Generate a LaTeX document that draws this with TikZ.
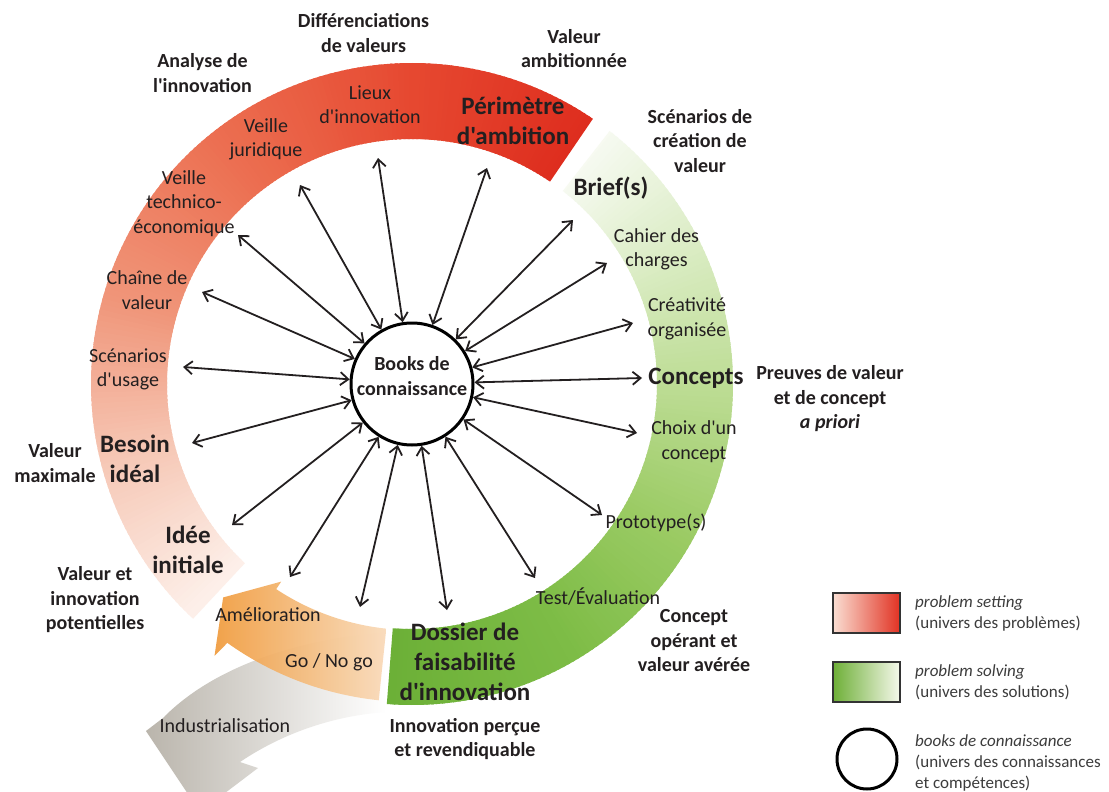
\documentclass[tikz,border=0pt]{standalone}
\usepackage{fontspec}
\setmainfont{Carlito}[Ligatures=TeXOff]
\usetikzlibrary{arrows.meta}
\definecolor{txt}{RGB}{35,31,32}
\definecolor{legtxt}{RGB}{60,60,60}
\definecolor{rA}{RGB}{222,45,30}
\definecolor{rB}{RGB}{230,72,48}
\definecolor{rC}{RGB}{236,112,82}
\definecolor{rD}{RGB}{240,150,122}
\definecolor{rE}{RGB}{246,200,182}
\definecolor{rF}{RGB}{253,240,234}
\definecolor{gA}{RGB}{247,250,242}
\definecolor{gB}{RGB}{218,236,195}
\definecolor{gC}{RGB}{190,221,150}
\definecolor{gD}{RGB}{155,203,100}
\definecolor{gE}{RGB}{125,188,70}
\definecolor{gF}{RGB}{108,176,55}
\definecolor{orA}{RGB}{240,155,60}
\definecolor{orB}{RGB}{249,218,185}
\definecolor{grA}{RGB}{186,181,172}
\definecolor{legred}{RGB}{225,50,35}
\definecolor{legpink}{RGB}{250,222,210}
\definecolor{leggreen}{RGB}{110,175,55}
\definecolor{legpale}{RGB}{245,248,235}

% #1 start angle, #2 end angle, #3 colour at start, #4 colour at end, #5 overlap of first piece
\newcommand{\ringgrad}[5]{%
  \pgfmathtruncatemacro{\rgN}{ceil(abs(#2-#1))}
  \pgfmathsetmacro{\rgD}{(#2-#1)/abs(#2-#1)}
  \foreach \k in {1,...,\rgN}{
    \pgfmathsetmacro{\ov}{ifthenelse(\k>1,0.5,#5)}
    \pgfmathsetmacro{\aA}{#1+(#2-#1)*(\k-1)/\rgN-\ov*\rgD}
    \pgfmathsetmacro{\aB}{#1+(#2-#1)*\k/\rgN}
    \pgfmathsetmacro{\pc}{100*(\k-0.5)/\rgN}
    \fill[#4!\pc!#3] (\aA:245) arc[start angle=\aA, end angle=\aB, radius=245]
      -- (\aB:321) arc[start angle=\aB, end angle=\aA, radius=321] -- cycle;
  }
}

\begin{document}
\begin{tikzpicture}[x=1pt,y=-1pt,
  lab/.style={font=\fontsize{20}{24.5}\selectfont, text=txt, align=center, inner sep=0pt},
  blab/.style={font=\fontsize{20}{24.5}\selectfont\bfseries, text=txt, align=center, inner sep=0pt},
  big/.style={font=\fontsize{25}{30}\selectfont\bfseries, text=txt, align=center, inner sep=0pt},
  legt/.style={font=\fontsize{17}{21}\selectfont, text=legtxt, align=left, anchor=west, inner sep=0pt},
  conn/.style={line width=1.8pt, draw=txt, {Straight Barb[length=8pt,width=13pt]}-{Straight Barb[length=8pt,width=13pt]}},
  legbox/.style={draw=black!80, line width=1.5pt, minimum width=67pt, minimum height=40pt, inner sep=0pt}]
\useasboundingbox (0,0) rectangle (1109,792);
\fill[white] (0,0) rectangle (1109,792);

% industrialisation arrow (grey)
\shade[left color=grA, right color=white]
  (386,632) .. controls (290,640) and (210,670) .. (163,718)
  -- (146,731) -- (200,812) -- (258,768) -- (240,762)
  .. controls (280,735) and (330,716) .. (386,712) -- cycle;

\begin{scope}[shift={(412,384)}, yscale=-1]
  % problem setting ring (red)
  \ringgrad{55.7}{90}{rA}{rB}{0}
  \ringgrad{90}{130}{rB}{rC}{0.5}
  \ringgrad{130}{165}{rC}{rD}{0.5}
  \ringgrad{165}{195}{rD}{rE}{0.5}
  \ringgrad{195}{227}{rE}{rF}{0.5}
  % problem solving ring (green)
  \ringgrad{52}{25}{gA}{gB}{0}
  \ringgrad{25}{0}{gB}{gC}{0.5}
  \ringgrad{0}{-30}{gC}{gD}{0.5}
  \ringgrad{-30}{-60}{gD}{gE}{0.5}
  \ringgrad{-60}{-94.5}{gE}{gF}{0.5}
  % amelioration arrow (orange)
  \shade[left color=orA, right color=orB, opacity=0.92]
    (264:246) arc[start angle=264, end angle=236.5, radius=246]
    -- (236.5:237) -- (228.5:285) -- (234:336) -- (234.5:318)
    arc[start angle=234.5, end angle=264, radius=318] -- cycle;
\end{scope}

% books de connaissance
\node[circle, draw=black, line width=3pt, minimum size=122pt, inner sep=0pt] (books) at (412,384) {};
\node[blab, font=\fontsize{20}{25}\selectfont\bfseries] (bookstxt) at (412,376) {Books de\\connaissance};

% outer ends of the connectors
\coordinate (o1) at (378,158);
\coordinate (o2) at (487,168);
\coordinate (o3) at (300,185);
\coordinate (o4) at (238,235);
\coordinate (o5) at (202,292);
\coordinate (o6) at (183,367);
\coordinate (o7) at (192,443);
\coordinate (o8) at (232,525);
\coordinate (o9) at (290,577);
\coordinate (o10) at (360,607);
\coordinate (o11) at (447,610);
\coordinate (o12) at (535,578);
\coordinate (o13) at (602,515);
\coordinate (o14) at (637,433);
\coordinate (o15) at (642,378);
\coordinate (o16) at (633,323);
\coordinate (o17) at (607,263);
\coordinate (o18) at (573,220);
\foreach \i in {1,...,18}{\draw[conn] (books) -- (o\i);}

% labels on the ring
\node[lab] (lieux) at (370,104.5) {Lieux\\d'innovation};
\node[lab] (jurid) at (266,139.5) {Veille\\juridique};
\node[lab] (techno) at (184,203.5) {Veille\\technico-\\économique};
\node[lab] (chaine) at (147,290) {Chaîne de\\valeur};
\node[lab] (scenu) at (128,369.5) {Scénarios\\d'usage};
\node[lab] (cahier) at (656.5,249.5) {Cahier des\\charges};
\node[lab] (creat) at (687,319) {Créativité\\organisée};
\node[lab] (choix) at (694,441.5) {Choix d'un\\concept};
\node[lab] (proto) at (656,523) {Prototype(s)};
\node[lab] (test) at (598,597) {Test/Évaluation};
\node[lab] (amelio) at (268,615) {Amélioration};
\node[lab] (gonogo) at (329,662) {Go / No go};
\node[lab] (indus) at (225,726) {Industrialisation};

\node[big] (perim) at (513,120.5) {Périmètre\\d'ambition};
\node[big] (brief) at (611,188) {Brief(s)};
\node[big] (concepts) at (696,378) {Concepts};
\node[big] (dossier) at (465,662) {Dossier de\\faisabilité\\d'innovation};
\node[big] (besoin) at (135,458.5) {Besoin\\idéal};
\node[big] (idee) at (188,550) {Idée\\initiale};

% outer labels
\node[blab] (differ) at (363.5,33) {Différenciations\\de valeurs};
\node[blab] (analyse) at (202.5,73) {Analyse de\\l'innovation};
\node[blab] (valamb) at (574,48.5) {Valeur\\ambitionnée};
\node[blab] (scenc) at (700,141) {Scénarios de\\création de\\valeur};
\node[blab] (preuves) at (830,399) {Preuves de valeur\\et de concept\\\textit{a priori}};
\node[blab] (concop) at (694,641) {Concept\\opérant et\\valeur avérée};
\node[blab] (innov) at (465,739) {Innovation perçue\\et revendiquable};
\node[blab] (valpot) at (95,600) {Valeur et\\innovation\\potentielles};
\node[blab] (valmax) at (55,463) {Valeur\\maximale};

% legend
\node[legbox, left color=legpink, right color=legred] (leg1) at (866.5,613) {};
\node[legt] (leg1t) at (915,613.5) {\textit{problem setting}\\(univers des problèmes)};
\node[legbox, left color=leggreen, right color=legpale] (leg2) at (866.5,682) {};
\node[legt] (leg2t) at (915,682) {\textit{problem solving}\\(univers des solutions)};
\node[circle, draw=black, line width=3pt, minimum size=60pt, inner sep=0pt] (leg3) at (867,759) {};
\node[legt] (leg3t) at (915,762.5) {\textit{books de connaissance}\\(univers des connaissances\\et compétences)};
\end{tikzpicture}
\end{document}
